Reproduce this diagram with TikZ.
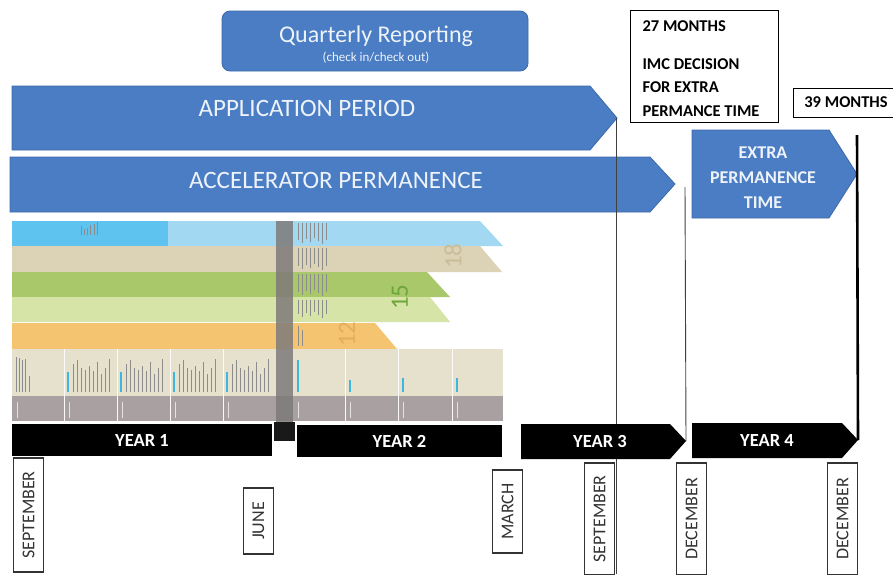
\documentclass[tikz,border=0pt]{standalone}
\usepackage{fontspec}
\setmainfont{Carlito}
\usetikzlibrary{calc}
\definecolor{arrowblue}{HTML}{4A7DC4}
\definecolor{arrowedge}{HTML}{3D69A8}
\definecolor{paletext}{HTML}{EEF3FA}
\definecolor{skyA}{HTML}{5EC3EE}
\definecolor{skyB}{HTML}{A3D8F2}
\definecolor{tanbar}{HTML}{DCD3B6}
\definecolor{tannum}{HTML}{C9BD9A}
\definecolor{greenA}{HTML}{A8C86A}
\definecolor{greennum}{HTML}{6FA83A}
\definecolor{greenB}{HTML}{D6E4A8}
\definecolor{orangebar}{HTML}{F5C470}
\definecolor{orangenum}{HTML}{E3AE5E}
\definecolor{beige}{HTML}{E6E1CD}
\definecolor{mauve}{HTML}{A9A0A2}
\definecolor{colgray}{HTML}{7E7A7A}
\definecolor{labeltext}{HTML}{333333}
\definecolor{cyantag}{HTML}{3FB6E0}
\begin{document}
\begin{tikzpicture}[x=1pt,y=-1pt,
  bluearrow/.style={fill=arrowblue,draw=arrowedge,line width=0.8pt},
  bigtext/.style={text=paletext,font=\fontsize{25}{28}\selectfont},
  yearbar/.style={fill=black},
  yeartext/.style={text=white,font=\bfseries\fontsize{18.5}{20}\selectfont},
  monthbox/.style={draw=labeltext,line width=1.1pt,fill=white,rotate=90,
    text=labeltext,font=\fontsize{18}{20}\selectfont,inner sep=0pt,
    minimum height=30pt,anchor=center},
  notebox/.style={draw=black,line width=0.9pt,fill=white},
  notetext/.style={font=\bfseries\fontsize{16.5}{18}\selectfont,anchor=west},
  marker/.style={draw=black!75,line width=0.9pt},
  bignum/.style={rotate=90,font=\fontsize{25}{27}\selectfont},
  divider/.style={draw=white!85!beige,line width=0.8pt},
  ink/.style={draw=black!45,line width=0.8pt},
  paleink/.style={draw=white!70!mauve,line width=0.8pt}]
\useasboundingbox (0,0) rectangle (893,574);

% quarterly reporting banner
\node[fill=arrowblue,draw=arrowedge,line width=0.8pt,rounded corners=8pt,
  minimum width=306pt,minimum height=60pt] (qr) at (375,41) {};
\node[bigtext,font=\fontsize{24}{26}\selectfont] (qrt) at (376,36) {Quarterly Reporting};
\node[text=paletext,font=\fontsize{13}{15}\selectfont] (qrs) at (376,58) {(check in/check out)};

% application period and permanence arrows
\draw[bluearrow] (12,86) -- (590,86) -- (617,118) -- (590,150) -- (12,150) -- cycle;
\coordinate (apptip) at (616,118);
\node[bigtext] (app) at (307,108) {APPLICATION PERIOD};
\draw[bluearrow] (10,157) -- (650,157) -- (675,184) -- (650,212) -- (10,212) -- cycle;
\node[bigtext] (acc) at (336,180) {ACCELERATOR PERMANENCE};

% extra permanence arrow
\draw[bluearrow] (692,130) -- (829,130) -- (857,174) -- (829,218) -- (692,218) -- cycle;
\node[text=paletext,font=\bfseries\fontsize{18}{25}\selectfont,align=center]
  (extra) at (763,178) {EXTRA\\PERMANENCE\\TIME};

% decision notes
\node[notebox,minimum width=148pt,minimum height=112pt] (n27) at (704,66) {};
\node[notetext] (n27a) at (639,26) {27 MONTHS};
\node[notetext] (n27b) at (639,64) {IMC DECISION};
\node[notetext] (n27c) at (639,87) {FOR EXTRA};
\node[notetext] (n27d) at (639,111) {PERMANCE TIME};
\node[notebox,minimum width=104pt,minimum height=29pt] (n39) at (845,103) {};
\node[font=\bfseries\fontsize{16.5}{18}\selectfont] (n39t) at (846,102) {39 MONTHS};

% programme bars
\fill[skyB] (12,221) -- (480,221) -- (503,246) -- (12,246) -- cycle;
\fill[skyA] (12,221) rectangle (168,246);
\fill[tanbar] (12,246) -- (480,246) -- (502,272) -- (12,272) -- cycle;
\fill[greenA] (12,272) -- (427,272) -- (450,297) -- (12,297) -- cycle;
\fill[greenB] (12,297) -- (430,297) -- (450,322) -- (12,322) -- cycle;
\fill[orangebar] (12,323) -- (375,323) -- (397,349) -- (12,349) -- cycle;
\fill[beige] (12,349) rectangle (503,396);
\fill[mauve] (12,396) rectangle (503,421);
\foreach \dx in {64,117,170,223,345,398,452}
  \draw[divider] (\dx,349) -- (\dx,421);

% fine print inside the bars
\foreach \dx/\dt in {81/226,84/229,87/228,90/225,94/224,97/222}
  \draw[ink] (\dx,\dt) -- (\dx,235);
\foreach \dy/\dt/\db in {222/223/244, 246/248/270, 272/274/296, 297/300/318}
  \foreach \dx in {298,302,306,310,314,318,322,326}
    \draw[ink,line width=0.7pt] (\dx,\dt) -- (\dx,{\db-mod(\dx,7)});
\draw[ink,line width=0.7pt] (298,326) -- (298,346);
\draw[ink,line width=0.7pt] (302,330) -- (302,346);
\foreach \dx/\dt in {16/357,19/358,22/360,25/359,29/376}
  \draw[ink] (\dx,\dt) -- (\dx,392);
\foreach \cx in {64,117,170,223}{
  \draw[draw=cyantag,line width=1.8pt] (\cx+4,372) -- (\cx+4,392);
  \foreach \dx/\dt in {9/364,13/360,17/368,21/370,25/366,29/371,33/362,37/374,41/368,45/359}
    \draw[ink] (\cx+\dx,\dt) -- (\cx+\dx,392);
}
\foreach \cx/\ct in {293/360,345/380,398/378,452/378}
  \draw[draw=cyantag,line width=1.8pt] (\cx+5,\ct) -- (\cx+5,392);
\foreach \cx in {12,64,117,170,223,293,345,398,452}
  \draw[paleink] (\cx+5,402) -- (\cx+5,418);

% transition column
\fill[colgray,opacity=0.85] (276,221) rectangle (293,423);
\node[bignum,text=tannum] (m18) at (453,256) {18};
\node[bignum,text=greennum] (m15) at (400,297) {15};
\node[bignum,text=orangenum] (m12) at (347,334) {12};

% milestone markers (behind the year bars)
\coordinate (sepfoot) at (616,574);
\coordinate (accmark) at (685,187);
\coordinate (extramark) at (857,135);
\coordinate (y3tip) at (686,441);
\coordinate (y4tip) at (858,440);
\draw[marker] (apptip) -- (sepfoot);
\draw[marker] (accmark) -- (y3tip);
\draw[draw=black,line width=2.6pt] (extramark) -- (y4tip);

% year bars
\node[yearbar,minimum width=260pt,minimum height=32pt,inner sep=0pt] (y1) at (142,440) {};
\node[yeartext] at (y1) {YEAR 1};
\fill[black!90] (274,422) rectangle (295,441);
\node[yearbar,minimum width=205pt,minimum height=32pt,inner sep=0pt] (y2) at (399.5,441) {};
\node[yeartext] at (y2) {YEAR 2};
\fill[black] (521,424) -- (670,424) -- (y3tip) -- (670,459) -- (521,459) -- cycle;
\node[yeartext] (y3) at (600,441) {YEAR 3};
\fill[black] (692,423) -- (842,423) -- (y4tip) -- (842,458) -- (692,458) -- cycle;
\node[yeartext] (y4) at (767,440) {YEAR 4};

% month labels
\node[monthbox,minimum width=114pt] (sep1) at (28.5,515) {SEPTEMBER};
\node[monthbox,minimum width=66pt] (jun) at (258.5,521) {JUNE};
\node[monthbox,minimum width=83pt] (mar) at (507.5,511.5) {MARCH};
\node[monthbox,minimum width=112pt] (sep2) at (599.5,519) {SEPTEMBER};
\node[monthbox,minimum width=112pt] (dec1) at (691.5,519) {DECEMBER};
\node[monthbox,minimum width=112pt] (dec2) at (842.5,519) {DECEMBER};
\end{tikzpicture}
\end{document}
